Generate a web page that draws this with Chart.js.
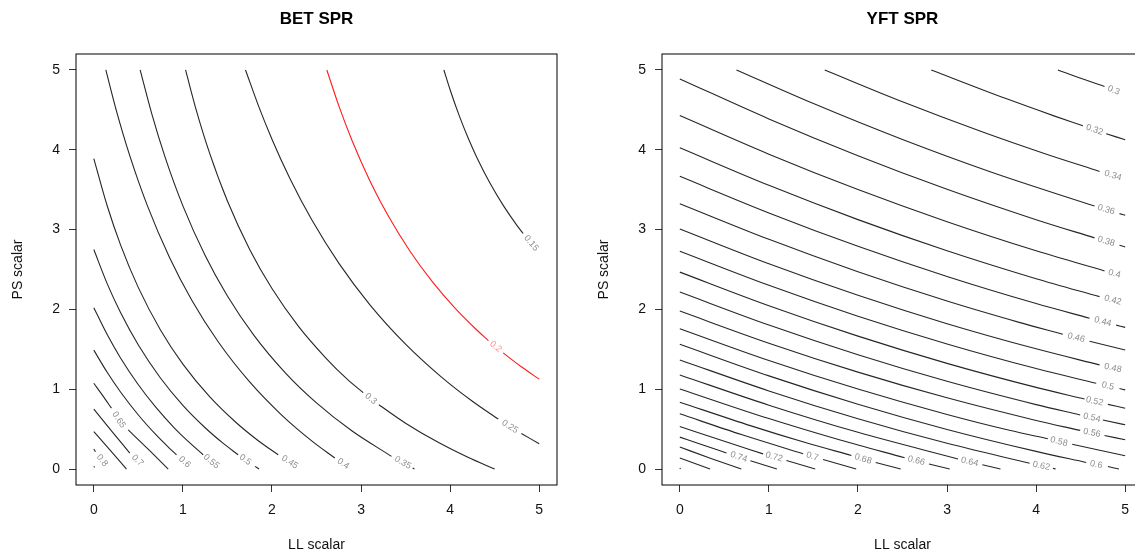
<!DOCTYPE html>
<html>
<head>
<meta charset="utf-8">
<script src="https://cdn.jsdelivr.net/npm/chart.js@4.4.0/dist/chart.umd.min.js"></script>
<style>
  html, body { margin: 0; padding: 0; background: #fff; width: 1135px; height: 554px; overflow: hidden; position: relative; }
  canvas { position: absolute; top: 0; }
  #bet { left: 0; }
  #yft { left: 586px; }
</style>
</head>
<body>
<canvas id="bet" width="567" height="554"></canvas>
<canvas id="yft" width="567" height="554"></canvas>
<script>
// Axis ticks shared by both panels (LL scalar / PS scalar multipliers)
const axisTicks = [0, 1, 2, 3, 4, 5];

// ---- BET spawning potential ratio contours ----
const betLevels = [0.15, 0.2, 0.25, 0.3, 0.35, 0.4, 0.45, 0.5, 0.55, 0.6, 0.65, 0.7, 0.75, 0.8];
// each contour: [LL, PS] vertices; null marks the break left for the label
const betCurves = [
  [[3.93,5.0],[4.0,4.752],[4.1,4.434],[4.2,4.153],[4.3,3.904],[4.45,3.577],[4.6,3.297],[4.75,3.053],[4.82,2.951]],
  [[2.616,5.0],[2.75,4.553],[2.9,4.113],[3.1,3.61],[3.3,3.182],[3.55,2.729],[3.8,2.348],[4.05,2.023],[4.3,1.742],[4.43,1.61],null,[4.596,1.455],[4.8,1.281],[5.0,1.126]],
  [[1.703,5.0],[1.85,4.547],[2.0,4.132],[2.2,3.643],[2.45,3.116],[2.75,2.58],[3.1,2.058],[3.5,1.565],[3.9,1.155],[4.25,0.849],[4.54,0.626],null,[4.8,0.445],[5.0,0.317]],
  [[1.03,5.0],[1.15,4.498],[1.3,3.958],[1.5,3.358],[1.75,2.751],[2.0,2.261],[2.3,1.784],[2.6,1.397],[2.85,1.12],[3.024,0.958],null,[3.2,0.805],[3.5,0.574],[3.85,0.344],[4.2,0.147],[4.5,0.0]],
  [[0.52,5.0],[0.65,4.453],[0.8,3.908],[1.0,3.297],[1.25,2.675],[1.5,2.168],[1.8,1.672],[2.15,1.206],[2.5,0.829],[2.9,0.476],[3.342,0.159],null,[3.58,0.013],[3.6,0.0]],
  [[0.135,5.0],[0.25,4.504],[0.4,3.939],[0.6,3.303],[0.85,2.65],[1.1,2.115],[1.4,1.588],[1.75,1.091],[2.1,0.686],[2.45,0.35],[2.706,0.138]],
  [[0,3.89],[0.15,3.299],[0.3,2.809],[0.5,2.273],[0.75,1.74],[1.0,1.315],[1.3,0.907],[1.6,0.58],[1.85,0.352],[2.07,0.179]],
  [[0,2.75],[0.15,2.323],[0.3,1.96],[0.5,1.553],[0.75,1.137],[1.0,0.798],[1.25,0.517],[1.45,0.324],[1.62,0.179],null,[1.81,0.033],[1.856,0.0]],
  [[0,2.02],[0.15,1.685],[0.3,1.392],[0.5,1.056],[0.7,0.769],[0.9,0.52],[1.05,0.355],[1.228,0.179]],
  [[0,1.49],[0.15,1.212],[0.3,0.965],[0.5,0.677],[0.7,0.427],[0.85,0.26],[0.928,0.179]],
  [[0,1.075],[0.1,0.92],[0.198,0.7625],null,[0.386,0.49],[0.61,0.25],[0.835,0.0]],
  [[0,0.75],[0.198,0.479],[0.404,0.2]],
  [[0,0.47],[0.18,0.24],[0.367,0.0]],
  [[0,0.25],[0.019,0.216],null,[0,0.035],[0.01,0.02]]
];
const betLabelAt = [
  [4.91,2.83],[4.51,1.534],[4.671,0.53],[3.11,0.88],[3.47,0.08],[2.80,0.066],[2.2,0.086],
  [1.70,0.115],[1.32,0.094],[1.02,0.088],[0.281,0.616],[0.49,0.108],null,[0.093,0.108]
];
const betReferenceLevel = 0.2;

// ---- YFT spawning potential ratio contours ----
const yftLevels = [0.3, 0.32, 0.34, 0.36, 0.38, 0.4, 0.42, 0.44, 0.46, 0.48, 0.5, 0.52, 0.54,
                   0.56, 0.58, 0.6, 0.62, 0.64, 0.66, 0.68, 0.7, 0.72, 0.74, 0.76, 0.78, 0.8];
const yftCurves = [
  [[4.245,5.0],[4.5,4.895],[4.768,4.792]],
  [[2.823,5.0],[3.67,4.638],[4.2,4.425],[4.525,4.3],null,[4.787,4.202],[5.0,4.125]],
  [[1.627,5.0],[2.5,4.602],[3.4,4.223],[4.1,3.951],[4.712,3.729]],
  [[0.636,5.0],[1.5,4.579],[2.5,4.129],[3.5,3.719],[4.656,3.295],null,[4.936,3.2],[5.0,3.179]],
  [[0,4.888],[1,4.387],[2,3.926],[3,3.505],[4,3.124],[4.656,2.896],null,[4.936,2.804],[5.0,2.783]],
  [[0,4.429],[1,3.945],[2,3.501],[3,3.098],[4,2.734],[4.768,2.482]],
  [[0,4.025],[1,3.555],[2,3.125],[3,2.735],[4,2.385],[4.712,2.16]],
  [[0,3.667],[1,3.209],[2,2.79],[3,2.412],[4,2.073],[4.6,1.89],null,[4.899,1.803],[5.0,1.775]],
  [[0,3.325],[1,2.878],[2,2.472],[3,2.105],[3.8,1.841],[4.3,1.688],null,[4.6,1.602],[5.0,1.492]],
  [[0,3.008],[1,2.572],[2,2.177],[3,1.821],[4,1.506],[4.712,1.305]],
  [[0,2.729],[1,2.302],[2,1.914],[3,1.567],[4,1.259],[4.675,1.075],null,[4.936,1.008],[5.0,0.992]],
  [[0,2.467],[1,2.046],[2,1.665],[3,1.324],[4,1.023],[4.544,0.877],null,[4.806,0.81],[5.0,0.7625]],
  [[0,2.217],[1,1.804],[2,1.432],[3,1.099],[4,0.807],[4.495,0.677],null,[4.749,0.614],[5.0,0.554]],
  [[0,1.979],[1,1.577],[2,1.214],[3,0.892],[4,0.609],[4.495,0.484],null,[4.768,0.42],[5.0,0.367]],
  [[0,1.758],[1,1.36],[2,1.002],[3,0.683],[3.7,0.485],[4.132,0.38],null,[4.405,0.31],[5.0,0.167]],
  [[0,1.563],[1,1.167],[2,0.812],[3,0.496],[4,0.221],[4.562,0.083],null,[4.806,0.032],[4.93,0.0]],
  [[0,1.367],[1,0.979],[2,0.63],[3,0.322],[3.927,0.072],null,[4.19,0.008],[4.22,0.0]],
  [[0,1.179],[1,0.8],[2,0.46],[3.123,0.126],null,[3.396,0.053],[3.6,0.0]],
  [[0,1.004],[1,0.632],[1.8,0.363],[2.524,0.142],null,[2.797,0.064],[3.03,0.0]],
  [[0,0.838],[0.8,0.541],[1.4,0.335],[1.926,0.17],null,[2.199,0.083],[2.48,0.0]],
  [[0,0.692],[0.7,0.429],[1.384,0.192],null,[1.608,0.12],[1.98,0.0]],
  [[0,0.533],[0.5,0.347],[0.935,0.19],null,[1.197,0.106],[1.52,0.0]],
  [[0,0.4],[0.26,0.3],[0.524,0.202],null,[0.793,0.104],[1.09,0.0]],
  [[0,0.275],[0.35,0.133],[0.69,0.0]],
  [[0,0.1375],[0.34,0.0]],
  [[0,0.012],[0.008,0.0]]
];
const yftLabelAt = [
  [4.87,4.745],[4.656,4.25],[4.862,3.677],[4.787,3.25],[4.787,2.852],[4.88,2.447],[4.862,2.115],
  [4.749,1.846],[4.45,1.645],[4.862,1.266],[4.806,1.041],[4.656,0.848],[4.626,0.644],[4.626,0.453],
  [4.256,0.343],[4.675,0.057],[4.058,0.04],[3.254,0.091],[2.655,0.104],[2.057,0.126],[1.488,0.157],
  [1.058,0.152],[0.662,0.151],null,null,null
];

const FONT = '"Liberation Sans", Arial, Helvetica, sans-serif';

function segmentsOf(curve) {
  const segs = [];
  let cur = [];
  curve.forEach(p => {
    if (p === null) { if (cur.length) segs.push(cur); cur = []; }
    else cur.push({ x: p[0], y: p[1] });
  });
  if (cur.length) segs.push(cur);
  return segs;
}

function contourDatasets(levels, curves, highlight) {
  const sets = [];
  levels.forEach((lv, i) => {
    const color = lv === highlight ? '#ff1a1a' : '#262626';
    segmentsOf(curves[i]).forEach(seg => {
      sets.push({
        label: String(lv),
        data: seg,
        showLine: true,
        borderColor: color,
        borderWidth: 1.1,
        pointRadius: 0,
        fill: false,
        cubicInterpolationMode: 'monotone'
      });
    });
  });
  return sets;
}

// Inline contour labels, rotated along the line they sit on
const contourLabels = {
  id: 'contourLabels',
  afterDatasetsDraw(chart, args, o) {
    const { ctx } = chart;
    const xs = chart.scales.x, ys = chart.scales.y;
    ctx.save();
    ctx.font = '9px ' + FONT;
    ctx.textAlign = 'center';
    ctx.textBaseline = 'middle';
    o.levels.forEach((lv, i) => {
      const at = o.labelAt[i];
      if (!at) return;
      const px = xs.getPixelForValue(at[0]);
      const py = ys.getPixelForValue(at[1]);
      let prev = null;
      o.curves[i].forEach(p => {
        if (p && p[0] < at[0] && (!prev || p[0] > prev[0])) prev = p;
      });
      let ang = 0;
      if (prev) {
        ang = Math.atan2(py - ys.getPixelForValue(prev[1]), px - xs.getPixelForValue(prev[0]));
      }
      if (ang > Math.PI / 2) ang -= Math.PI;
      if (ang < -Math.PI / 2) ang += Math.PI;
      ctx.save();
      ctx.translate(px, py);
      ctx.rotate(ang);
      ctx.fillStyle = lv === o.highlight ? '#ff8c8c' : '#8e8e8e';
      ctx.fillText(String(lv), 0, 0);
      ctx.restore();
    });
    ctx.restore();
  }
};

// Plot frame and main title
const plotFrame = {
  id: 'plotFrame',
  afterDraw(chart, args, o) {
    const { ctx, chartArea: a } = chart;
    ctx.save();
    ctx.strokeStyle = '#000';
    ctx.lineWidth = 1;
    ctx.strokeRect(a.left, a.top, a.right - a.left, a.bottom - a.top);
    ctx.fillStyle = '#000';
    ctx.font = 'bold 17px ' + FONT;
    ctx.textAlign = 'center';
    ctx.textBaseline = 'middle';
    ctx.fillText(o.text, (a.left + a.right) / 2, 19.5);
    ctx.restore();
  }
};

function axisOptions(axis, title) {
  const horizontal = axis === 'x';
  return {
    type: 'linear',
    position: horizontal ? 'bottom' : 'left',
    min: -0.2,
    max: 5.2,
    afterBuildTicks: s => { s.ticks = axisTicks.map(v => ({ value: v })); },
    afterFit: s => { if (horizontal) s.height = 69; else s.width = 76; },
    grid: { drawOnChartArea: false, drawTicks: true, tickLength: 7, color: '#333', lineWidth: 1 },
    border: { display: false },
    ticks: {
      color: '#111',
      font: { family: FONT, size: 14 },
      padding: horizontal ? 10 : 9,
      autoSkip: false,
      maxRotation: 0,
      callback: v => String(v)
    },
    title: {
      display: true,
      text: title,
      color: '#111',
      font: { family: FONT, size: 14 },
      padding: horizontal ? { top: 0, bottom: 0 } : { top: 10, bottom: 0 }
    }
  };
}

function makePanel(id, titleText, levels, curves, labelAt, highlight) {
  return new Chart(document.getElementById(id), {
    type: 'scatter',
    data: { datasets: contourDatasets(levels, curves, highlight) },
    options: {
      responsive: false,
      animation: false,
      events: [],
      layout: { padding: { top: 54, right: 10, left: 0, bottom: 0 } },
      scales: {
        x: axisOptions('x', 'LL scalar'),
        y: axisOptions('y', 'PS scalar')
      },
      plugins: {
        legend: { display: false },
        tooltip: { enabled: false },
        title: { display: false },
        contourLabels: { levels, curves, labelAt, highlight },
        plotFrame: { text: titleText }
      }
    },
    plugins: [contourLabels, plotFrame]
  });
}

makePanel('bet', 'BET SPR', betLevels, betCurves, betLabelAt, betReferenceLevel);
makePanel('yft', 'YFT SPR', yftLevels, yftCurves, yftLabelAt, null);
</script>
</body>
</html>
